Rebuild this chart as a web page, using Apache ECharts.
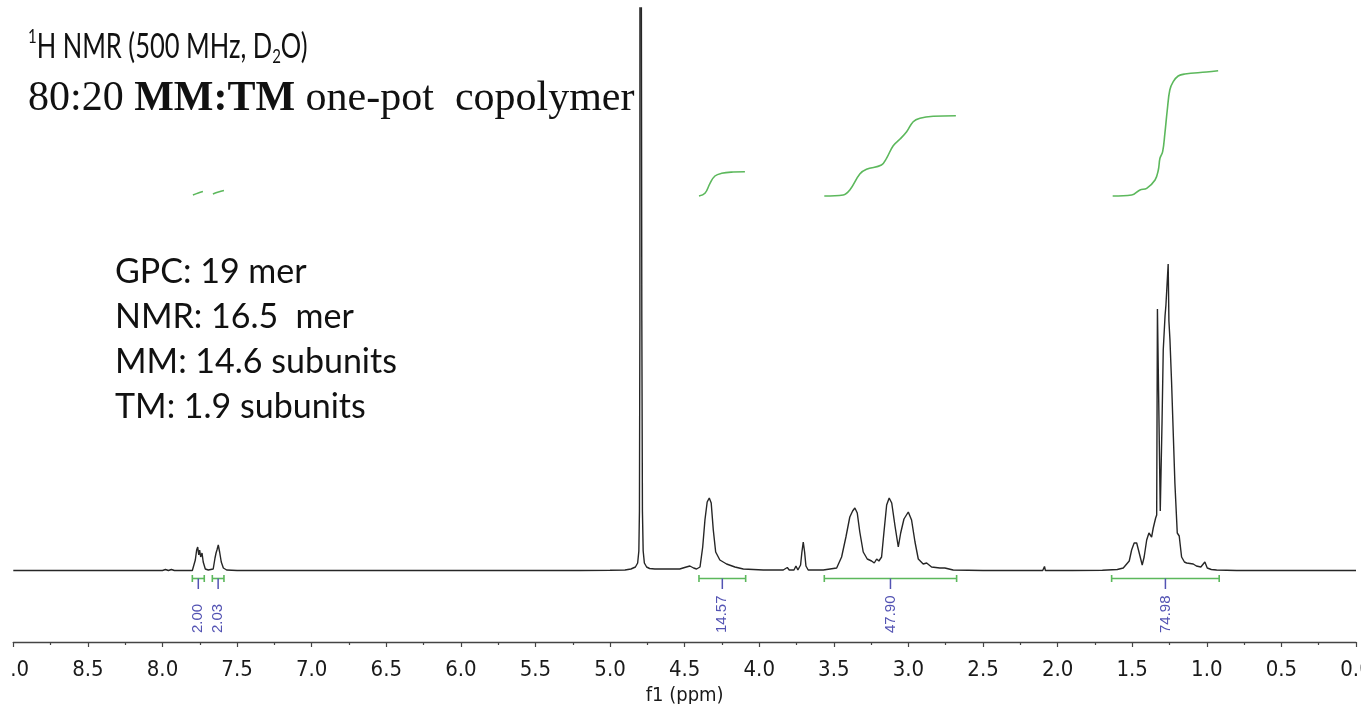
<!DOCTYPE html>
<html><head><meta charset="utf-8">
<script src="https://cdn.jsdelivr.net/npm/echarts@6/dist/echarts.min.js"></script>
<style>html,body{margin:0;padding:0;background:#fff;overflow:hidden}#c{width:1361px;height:704px}</style>
</head><body><div id="c"></div>
<script>
// ---- data (ppm, intensity in arbitrary units above baseline) ----
const baselineLow = [[9.00,0.5],[8.80,0.5],[8.60,0.5],[8.40,0.5],[8.33,0.5],[8.32,2.5],[8.31,0.5],[8.29,0.5],[8.28,2.5],[8.27,0.5],[8.10,0.5],[8.03,0.5],[8.02,1.5],[8.00,0.5],[7.98,1.5],[7.96,0.5],[7.94,1.5],[7.92,0.5],[7.85,0.5],[7.80,0.5]];
const aromatic = [[7.794,1],[7.780,11],[7.771,21],[7.764,24],[7.757,16],[7.751,21],[7.744,14],[7.735,18],[7.727,9],[7.713,2],[7.693,1],[7.660,2],[7.648,13],[7.641,18],[7.635,21],[7.626,26],[7.617,19],[7.606,9],[7.592,3],[7.570,1],[7.50,0.5],[7.0,0.5],[6.5,0.5],[6.0,0.5],[5.5,0.5],[5.2,0.5],[5.0,0.8]];
const water = [[4.90,1],[4.86,2],[4.83,4],[4.815,8],[4.807,20],[4.803,60],[4.800,250],[4.799,1500],[4.788,1500],[4.787,250],[4.783,60],[4.778,20],[4.770,8],[4.755,4],[4.735,2.5],[4.70,2],[4.62,2],[4.55,2]];
const midRegion = [[4.533,2],[4.500,3.5],[4.465,5],[4.440,3],[4.420,2],[4.397,4],[4.379,24],[4.364,51],[4.349,69],[4.335,73],[4.322,68],[4.308,41],[4.292,19],[4.264,11],[4.219,7],[4.163,4],[4.107,2],[3.973,1],[3.839,1],[3.812,3.5],[3.799,1],[3.767,1],[3.754,5],[3.741,1],[3.723,6],[3.714,19],[3.705,29],[3.696,19],[3.687,5],[3.672,1],[3.571,1],[3.481,3],[3.448,14],[3.419,34],[3.393,54],[3.374,60],[3.359,63],[3.343,58],[3.326,39],[3.303,19],[3.276,12],[3.247,10],[3.229,8],[3.213,12],[3.198,10],[3.180,14],[3.164,39],[3.146,66],[3.129,73],[3.112,68],[3.090,45],[3.068,24],[3.052,38],[3.030,52],[3.001,59],[2.979,51],[2.956,29],[2.934,12],[2.901,7],[2.878,8],[2.845,4],[2.789,3],[2.756,3],[2.700,1],[2.50,0.5],[2.20,0.5],[2.10,0.5],[2.088,4.5],[2.082,0.5],[1.90,0.5],[1.70,0.8],[1.60,1.5]];
const methyl = [[1.560,3],[1.520,10],[1.504,21],[1.487,28],[1.478,26],[1.470,28],[1.453,18],[1.433,6],[1.420,14],[1.403,31],[1.388,38],[1.370,34],[1.359,43],[1.343,53],[1.336,56],[1.331,262],[1.312,60],[1.300,150],[1.292,221],[1.280,255],[1.274,266],[1.268,264],[1.259,307],[1.254,250],[1.247,231],[1.236,188],[1.214,88],[1.198,38],[1.185,35],[1.169,14],[1.150,9],[1.135,8],[1.091,7],[1.070,5],[1.058,3],[1.040,4],[1.013,9],[0.997,3],[0.970,1.5],[0.934,1],[0.80,0.5],[0.50,0.5],[0.20,0.5],[0.00,0.5]];

// integral curves (ppm, displayed integral level)
const integralCurves = [
  [[7.796,376],[7.760,378],[7.729,379.5]],
  [[7.662,377],[7.625,379],[7.588,380.5]],
  [[4.404,375],[4.364,377.7],[4.330,387.7],[4.297,395],[4.252,397.7],[4.174,399],[4.096,399.3]],
  [[3.564,375],[3.437,376],[3.393,381],[3.326,397],[3.281,401.7],[3.181,406],[3.147,412.7],[3.102,425.3],[3.058,431.7],[3.012,439.3],[2.968,449.3],[2.923,452.7],[2.834,454.7],[2.682,455.3]],
  [[1.631,375],[1.504,376],[1.448,381],[1.403,382.7],[1.347,391],[1.325,401],[1.314,412.7],[1.296,419.3],[1.281,437.7],[1.265,461],[1.248,481],[1.225,489.3],[1.192,495],[1.147,497],[1.002,499],[0.924,500.3]]
];
// integration ranges
const integStart = [7.800, 7.666, 4.404, 3.564, 1.638];
const integEnd   = [7.720, 7.588, 4.091, 2.677, 0.917];
const integLabels = ['2.00', '2.03', '14.57', '47.90', '74.98'];

const titleLine1 = '{sup|1}H NMR (500 MHz, D{sub|2}O)';
const titleLine2 = '80:20 {b|MM:TM} one-pot  copolymer';
const infoLines = ['GPC: 19 mer', 'NMR: 16.5  mer', 'MM: 14.6 subunits', 'TM: 1.9 subunits'];

// ---- chart ----
const spectrum = [].concat(baselineLow, aromatic, water, midRegion, methyl);
const GREEN = '#5cb85c', BLUE = '#5353b3';
const BAR_Y = -7.5, TICK_Y = -18, LABEL_Y = -62;
const AXIS_FONT = "'DejaVu Sans Condensed', 'Liberation Sans', sans-serif";

const chart = echarts.init(document.getElementById('c'), null, {renderer: 'canvas'});
const series = [{
  type: 'line', data: spectrum, showSymbol: false, symbol: 'none', clip: true,
  lineStyle: {color: '#262626', width: 1.4}, z: 3, animation: false
}];
integralCurves.forEach(c => series.push({
  type: 'line', data: c, showSymbol: false, symbol: 'none', smooth: 0.4,
  lineStyle: {color: GREEN, width: 1.6}, z: 2, animation: false
}));
series.push({
  type: 'custom', animation: false, z: 4,
  data: integStart.map((s, i) => [s, integEnd[i], i]),
  encode: {x: [0, 1]},
  renderItem: function (params, api) {
    const s = api.value(0), e = api.value(1), idx = api.value(2);
    const c = (s + e) / 2;
    const p1 = api.coord([s, BAR_Y]), p2 = api.coord([e, BAR_Y]);
    const pc = api.coord([c, BAR_Y]), pt = api.coord([c, TICK_Y]), pl = api.coord([c, LABEL_Y]);
    const ls = {stroke: GREEN, lineWidth: 1.6};
    return {type: 'group', children: [
      {type: 'line', shape: {x1: p1[0], y1: p1[1], x2: p2[0], y2: p2[1]}, style: ls},
      {type: 'line', shape: {x1: p1[0], y1: p1[1] - 3.5, x2: p1[0], y2: p1[1] + 3.5}, style: ls},
      {type: 'line', shape: {x1: p2[0], y1: p2[1] - 3.5, x2: p2[0], y2: p2[1] + 3.5}, style: ls},
      {type: 'line', shape: {x1: pc[0], y1: pc[1], x2: pt[0], y2: pt[1]}, style: {stroke: BLUE, lineWidth: 1.5}},
      {type: 'text', x: pl[0], y: pl[1], rotation: Math.PI / 2,
        style: {text: integLabels[idx], fill: BLUE, fontSize: 15, fontFamily: 'Liberation Sans', align: 'left', verticalAlign: 'middle'}}
    ]};
  }
});

chart.setOption({
  animation: false,
  backgroundColor: '#fff',
  grid: {left: 13.3, right: 5, top: 8, bottom: 62, containLabel: false, outerBoundsMode: 'none'},
  xAxis: {
    type: 'value', min: 0, max: 9, interval: 0.5, inverse: true,
    axisLine: {onZero: false, lineStyle: {color: '#444', width: 1.4}},
    axisTick: {show: true, length: 5, lineStyle: {color: '#444', width: 1.2}},
    minorTick: {show: true, splitNumber: 2, length: 3, lineStyle: {color: '#444', width: 1.2}},
    splitLine: {show: false}, minorSplitLine: {show: false},
    axisLabel: {formatter: v => v.toFixed(1), fontSize: 22, fontFamily: AXIS_FONT, color: '#1a1a1a', margin: 17, showMinLabel: true, showMaxLabel: true, hideOverlap: false},
    name: 'f1 (ppm)', nameLocation: 'middle', nameGap: 40,
    nameTextStyle: {fontSize: 20, fontFamily: AXIS_FONT, color: '#1a1a1a'}
  },
  yAxis: {type: 'value', min: -71, max: 563, show: false, splitLine: {show: false}},
  series: series,
  graphic: [
    {type: 'rect', shape: {x: 0, y: 645, width: 11, height: 59}, style: {fill: '#fff'}, z: 100},
    {type: 'text', x: 28, y: 47, scaleX: 0.75, z: 10, style: {text: titleLine1, fontSize: 34, fontFamily: 'Lato', fill: '#111', verticalAlign: 'middle', lineHeight: 40,
      rich: {sup: {fontSize: 20, fontFamily: 'Lato', lineHeight: 20, verticalAlign: 'top', fill: '#111'}, sub: {fontSize: 20, fontFamily: 'Lato', lineHeight: 20, verticalAlign: 'bottom', fill: '#111'}}}},
    {type: 'text', x: 28, y: 99, z: 10, style: {text: titleLine2, fontSize: 42, fontFamily: 'Liberation Serif', fill: '#111', verticalAlign: 'middle',
      rich: {b: {fontSize: 42, fontFamily: 'Liberation Serif', fontWeight: 'bold', fill: '#111'}}}},
    {type: 'text', x: 115, y: 250, z: 10, style: {text: infoLines.join('\n'), fontSize: 34, fontFamily: 'Lato', fill: '#111', lineHeight: 45, verticalAlign: 'top'}}
  ]
});
</script></body></html>
